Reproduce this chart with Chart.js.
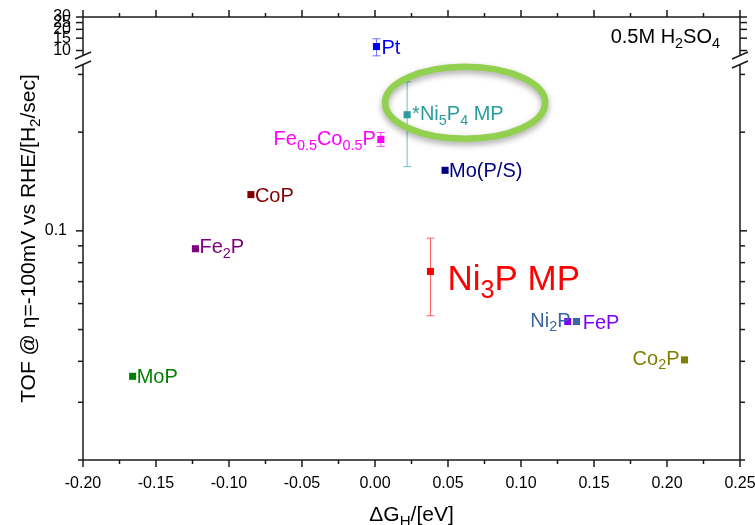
<!DOCTYPE html>
<html>
<head>
<meta charset="utf-8">
<script src="https://cdn.jsdelivr.net/npm/chart.js@4.4.1/dist/chart.umd.min.js"></script>
<style>
    body { margin: 0; background: #fff; }
    #canCon { width: 755px; height: 525px; position: relative; }
</style>
</head>
<body>
<div id="canCon"><canvas id="myChart"></canvas></div>
<script>
// values
const names = ['Pt', '*Ni_{5}P_{4} MP', 'Fe_{0.5}Co_{0.5}P', 'Mo(P/S)', 'CoP', 'Fe_{2}P', 'MoP', 'Ni_{3}P MP', 'FeP', 'Ni_{2}P', 'Co_{2}P'];
const deltaG = [0.001, 0.022, 0.004, 0.048, -0.085, -0.123, -0.166, 0.038, 0.132, 0.138, 0.212];
const tof = [11.4, 0.226, 0.190, 0.153, 0.129, 0.0882, 0.036, 0.0752, 0.0529, 0.0529, 0.0404];
const tofLow = [8.4, 0.157, 0.181, null, null, null, null, 0.0551, null, null, null];
const tofHigh = [14.7, 0.285, 0.1995, null, null, null, null, 0.095, null, null, null];

// tick labels
const xTickLabels = ['-0.20', '-0.15', '-0.10', '-0.05', '0.00', '0.05', '0.10', '0.15', '0.20', '0.25'];
const yLowTicks = [0.1];
const yLowMinor = [0.02, 0.03, 0.04, 0.05, 0.06, 0.07, 0.08, 0.09, 0.2, 0.3];
const yHighTicks = [10, 15, 20, 25, 30];

// styles
const colors = ['#0000ff', '#2a9c9c', '#ff00ff', '#000080', '#800000', '#800080', '#008000', '#ff0000', '#8000ff', '#3a66a8', '#808000'];
const errColors = ['#6f6fff', '#6fc0c0', '#ff44ff', null, null, null, null, '#ff6060', null, null, null];
const labelStyle = [
    { align: 'left', dx: 5, dy: 0, size: 20 },
    { align: 'left', dx: 5, dy: -2, size: 20 },
    { align: 'right', dx: -5, dy: -1.5, size: 20 },
    { align: 'left', dx: 4, dy: 0, size: 20 },
    { align: 'left', dx: 4, dy: 0, size: 20 },
    { align: 'left', dx: 4, dy: -3, size: 20 },
    { align: 'left', dx: 4, dy: 0, size: 20 },
    { align: 'left', dx: 17, dy: 6, size: 35 },
    { align: 'left', dx: 15, dy: 0, size: 20 },
    { align: 'right', dx: -6, dy: -2, size: 20 },
    { align: 'right', dx: -5, dy: -2.5, size: 20 }
];
const FAM = '"Liberation Sans", Arial, sans-serif';
const AXIS = '#1a1a1a';
const SUB = 0.72;

function drawRich(ctx, text, x, y, size, align, color) {
    let parts = [];
    let re = /_\{([^}]*)\}/g;
    let last = 0, m;
    while ((m = re.exec(text))) {
        if (m.index > last) parts.push({ t: text.slice(last, m.index), sub: false });
        parts.push({ t: m[1], sub: true });
        last = re.lastIndex;
    }
    if (last < text.length) parts.push({ t: text.slice(last), sub: false });
    let w = 0;
    parts.forEach(p => {
        ctx.font = (p.sub ? size * SUB : size) + 'px ' + FAM;
        p.w = ctx.measureText(p.t).width;
        w += p.w;
    });
    let cx = align === 'right' ? x - w : align === 'center' ? x - w / 2 : x;
    ctx.fillStyle = color;
    ctx.textAlign = 'left';
    ctx.textBaseline = 'alphabetic';
    parts.forEach(p => {
        ctx.font = (p.sub ? size * SUB : size) + 'px ' + FAM;
        ctx.fillText(p.t, cx, p.sub ? y + size * 0.24 : y);
        cx += p.w;
    });
}

function line(ctx, x1, y1, x2, y2) {
    ctx.beginPath();
    ctx.moveTo(x1, y1);
    ctx.lineTo(x2, y2);
    ctx.stroke();
}

const framePlugin = {
    id: 'frame',
    beforeDatasetsDraw(chart) {
        const ctx = chart.ctx;
        const a = chart.chartArea;
        const xs = chart.scales.x, yl = chart.scales.y, yh = chart.scales.y2;
        const brk = yl.top;
        ctx.save();
        ctx.strokeStyle = AXIS;
        ctx.lineWidth = 1.5;
        line(ctx, a.left, a.top, a.right, a.top);
        line(ctx, a.left, a.bottom, a.right, a.bottom);
        [a.left, a.right].forEach(px => {
            line(ctx, px, a.top, px, brk - 4);
            line(ctx, px, brk + 5, px, a.bottom);
        });
        // x ticks, major and minor, bottom and top
        xTickLabels.forEach((t, i) => {
            let v = parseFloat(t);
            let px = xs.getPixelForValue(v);
            line(ctx, px, a.bottom, px, a.bottom + 7);
            line(ctx, px, a.top, px, a.top - 7);
            if (i < xTickLabels.length - 1) {
                let pm = xs.getPixelForValue(v + 0.025);
                line(ctx, pm, a.bottom, pm, a.bottom + 4);
                line(ctx, pm, a.top, pm, a.top - 4);
            }
        });
        yLowTicks.forEach(v => {
            let py = yl.getPixelForValue(v);
            line(ctx, a.left, py, a.left - 7, py);
            line(ctx, a.right, py, a.right + 7, py);
        });
        yLowMinor.forEach(v => {
            let py = yl.getPixelForValue(v);
            line(ctx, a.left, py, a.left - 5, py);
            line(ctx, a.right, py, a.right + 5, py);
        });
        yHighTicks.forEach(v => {
            let py = yh.getPixelForValue(v);
            line(ctx, a.left, py, a.left - 7, py);
            line(ctx, a.right, py, a.right + 7, py);
        });
        // axis break marks
        [a.left, a.right].forEach(px => {
            line(ctx, px - 8, brk - 1, px + 8, brk - 8);
            line(ctx, px - 8, brk + 8, px + 8, brk + 1);
        });
        // error bars
        ctx.lineWidth = 1;
        tof.forEach((v, i) => {
            if (tofLow[i] === null) return;
            let sc = v > 1 ? yh : yl;
            let px = xs.getPixelForValue(deltaG[i]);
            let p1 = sc.getPixelForValue(tofLow[i]);
            let p2 = sc.getPixelForValue(tofHigh[i]);
            ctx.strokeStyle = errColors[i];
            line(ctx, px, p1, px, p2);
            line(ctx, px - 4, p1, px + 4, p1);
            line(ctx, px - 4, p2, px + 4, p2);
        });
        ctx.restore();
    },
    afterDatasetsDraw(chart) {
        const ctx = chart.ctx;
        const a = chart.chartArea;
        const xs = chart.scales.x, yl = chart.scales.y, yh = chart.scales.y2;
        ctx.save();
        // highlight ring round the Ni5P4 point
        let hx = xs.getPixelForValue(deltaG[1]) + 58;
        let hy = yl.getPixelForValue(tof[1]) - 12;
        ctx.shadowColor = 'rgba(0,0,0,0.35)';
        ctx.shadowBlur = 6;
        ctx.shadowOffsetY = 3;
        ctx.strokeStyle = '#92d050';
        ctx.lineWidth = 6.5;
        ctx.beginPath();
        ctx.ellipse(hx, hy, 80, 36, 0, 0, Math.PI * 2);
        ctx.stroke();
        ctx.restore();
        ctx.save();
        names.forEach((n, i) => {
            let sc = tof[i] > 1 ? yh : yl;
            let s = labelStyle[i];
            let px = xs.getPixelForValue(deltaG[i]) + s.dx;
            let py = sc.getPixelForValue(tof[i]) + s.dy + s.size * 0.358;
            drawRich(ctx, n, px, py, s.size, s.align, colors[i]);
        });
        drawRich(ctx, '0.5M H_{2}SO_{4}', a.right - 20, a.top + 26, 20, 'right', '#000');
        drawRich(ctx, '\u0394G_{H}/[eV]', (a.left + a.right) / 2, 521, 21, 'center', '#000');
        ctx.translate(a.left - 55, (a.top + a.bottom) / 2);
        ctx.rotate(-Math.PI / 2);
        drawRich(ctx, 'TOF @ \u03b7=-100mV vs RHE/[H_{2}/sec]', 0, 7, 21, 'center', '#000');
        ctx.restore();
    }
};

const datasets = names.map((n, i) => ({
    label: n,
    data: [{ x: deltaG[i], y: tof[i] }],
    yAxisID: tof[i] > 1 ? 'y2' : 'y',
    pointStyle: 'rect',
    pointRadius: 5,
    borderWidth: 0,
    backgroundColor: colors[i],
    borderColor: colors[i]
}));

let myChart = new Chart('myChart', {
    type: 'scatter',
    data: { datasets: datasets },
    options: {
        responsive: true,
        maintainAspectRatio: false,
        animation: false,
        layout: { padding: { top: 17, right: 15, left: 0, bottom: 0 } },
        plugins: { legend: { display: false }, tooltip: { enabled: false } },
        scales: {
            x: {
                type: 'linear',
                min: -0.2,
                max: 0.25,
                grid: { display: false, drawTicks: false },
                border: { display: false },
                afterBuildTicks: s => { s.ticks = xTickLabels.map(t => ({ value: parseFloat(t) })); },
                afterFit: s => { s.height = 65; s.paddingLeft = 0; s.paddingRight = 0; },
                ticks: {
                    autoSkip: false,
                    maxRotation: 0,
                    padding: 14,
                    color: '#000',
                    font: { family: FAM, size: 16 },
                    callback: (v, i) => xTickLabels[i]
                }
            },
            y: {
                type: 'logarithmic',
                position: 'left',
                stack: 'tof',
                stackWeight: 400,
                min: 0.02,
                max: 0.332,
                grid: { display: false, drawTicks: false },
                border: { display: false },
                afterBuildTicks: s => { s.ticks = yLowTicks.map(v => ({ value: v })); },
                afterFit: s => { s.width = 83; s.paddingTop = 0; s.paddingBottom = 0; },
                ticks: {
                    autoSkip: false,
                    padding: 16,
                    color: '#000',
                    font: { family: FAM, size: 16 },
                    callback: v => String(v)
                }
            },
            y2: {
                type: 'logarithmic',
                position: 'left',
                stack: 'tof',
                stackWeight: 43,
                min: 7.33,
                max: 30,
                grid: { display: false, drawTicks: false },
                border: { display: false },
                afterBuildTicks: s => { s.ticks = yHighTicks.map(v => ({ value: v })); },
                afterFit: s => { s.width = 83; s.paddingTop = 0; s.paddingBottom = 0; },
                ticks: {
                    autoSkip: false,
                    padding: 12,
                    color: '#000',
                    font: { family: FAM, size: 16 },
                    callback: v => String(v)
                }
            }
        }
    },
    plugins: [framePlugin]
});
</script>
</body>
</html>
